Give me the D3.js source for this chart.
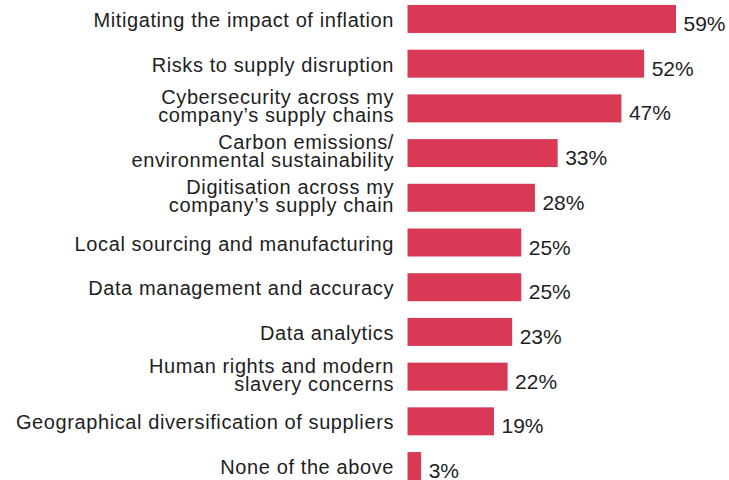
<!DOCTYPE html>
<html>
<head>
<meta charset="utf-8">
<script src="https://cdn.jsdelivr.net/npm/d3@7"></script>
<style>
  body { margin: 0; background: #fff; }
  text { font-family: "Liberation Sans", Arial, sans-serif; fill: #1e1e1e; }
</style>
</head>
<body>
<div id="chart"></div>
<script>
// categories, one entry per bar, lines split where the label wraps
const categories = [
    ['Mitigating the impact of inflation'],
    ['Risks to supply disruption'],
    ['Cybersecurity across my', 'company\u2019s supply chains'],
    ['Carbon emissions/', 'environmental sustainability'],
    ['Digitisation across my', 'company\u2019s supply chain'],
    ['Local sourcing and manufacturing'],
    ['Data management and accuracy'],
    ['Data analytics'],
    ['Human rights and modern', 'slavery concerns'],
    ['Geographical diversification of suppliers'],
    ['None of the above']
]
const values = [59, 52, 47, 33, 28, 25, 25, 23, 22, 19, 3]

const width = 729
const height = 480
const bar_color = '#d93954'

const draw_bars = () => {
    const svg = d3.select('#chart')
        .append('svg')
        .attr('width', width)
        .attr('height', height)

    const idx = d3.range(values.length)

    // bar centres run from ~19px to ~466px, bars ~28px tall
    const y = d3.scaleBand()
        .domain(idx)
        .range([-3.4, 488.4])
        .paddingInner(0.374)
        .paddingOuter(0.187)

    const x = d3.scaleLinear()
        .domain([0, 59])
        .range([407.5, 676])

    const row = svg.append('g')
        .selectAll('g')
        .data(idx)
        .enter()
        .append('g')
        .attr('transform', i => 'translate(0,' + (y(i) + y.bandwidth() / 2) + ')')

    row.append('rect')
        .attr('x', x(0))
        .attr('y', -y.bandwidth() / 2)
        .attr('width', i => x(values[i]) - x(0))
        .attr('height', y.bandwidth())
        .style('fill', bar_color)

    // category labels, right aligned against the bars
    const label = row.append('text')
        .attr('text-anchor', 'end')
        .style('font-size', '20px')
        .style('letter-spacing', '0.6px')

    label.selectAll('tspan')
        .data(i => categories[i].map((t, k) => ({ t: t, k: k, n: categories[i].length })))
        .enter()
        .append('tspan')
        .attr('x', 394)
        .attr('y', d => d.n == 1 ? 8 : (d.k == 0 ? -4 : 14))
        .text(d => d.t)

    // value labels
    row.append('text')
        .attr('x', i => x(values[i]) + 7.5)
        .attr('y', 12)
        .style('font-size', '21px')
        .text(i => values[i] + '%')
}

draw_bars()
</script>
</body>
</html>
